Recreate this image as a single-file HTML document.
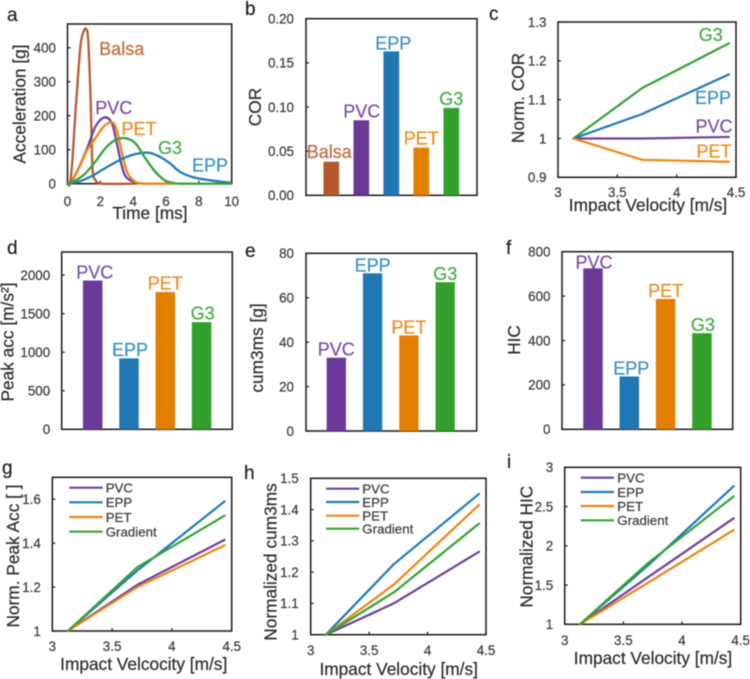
<!DOCTYPE html>
<html lang="en">
<head>
<meta charset="utf-8">
<title>Impact attenuation charts</title>
<style>
html,body{margin:0;padding:0;background:#fff;}
svg{display:block;font-family:"Liberation Sans",Arial,sans-serif;filter:blur(0.45px);}
</style>
</head>
<body>
<svg id="figure" xmlns="http://www.w3.org/2000/svg" width="750" height="679" viewBox="0 0 750 679">
  <rect width="750" height="679" fill="#ffffff"/>
  <g font-size="19" fill="#1f1f1f" stroke="#1f1f1f" stroke-width="0.2">
    <text x="7" y="21">a</text>
    <text x="245" y="15">b</text>
    <text x="489" y="20">c</text>
    <text x="7" y="254">d</text>
    <text x="245" y="257">e</text>
    <text x="506" y="254">f</text>
    <text x="2" y="474">g</text>
    <text x="244" y="479">h</text>
    <text x="507" y="468">i</text>
  </g>
</svg>
<script>
// ---------- colours ----------
const lineColors = {PVC:'#6f3fa0',EPP:'#1f7ab8',PET:'#ee8412',G3:'#35a335',Gradient:'#35a335',Balsa:'#b55c30'};
const barColors = {PVC:'#6b3a98',EPP:'#1f77b4',PET:'#e37f00',G3:'#33a02c',Balsa:'#b5592c'};
const labelColors = {PVC:'#7a4dab',EPP:'#3a8fc7',PET:'#ee8a1a',G3:'#3fae3f',Balsa:'#c06a3e'};

// ---------- panel a: acceleration pulses ----------
const aXTicks = ['0','2','4','6','8','10'];
const aYTicks = ['0','100','200','300','400'];
const aEppTime = [0,0.68,1.5,2.3,3.32,4.13,4.94,5.63,6.24,6.85,7.66,8.68,9.9];
const aEppAcc = [0,6,23,46,73,87,91,79,60,35,19,10,3];
const aG3Time = [0,0.48,1.08,1.7,2.3,2.9,3.52,4.13,4.74,5.35,5.96,6.5,7,10];
const aG3Acc = [0,9,30,65,104,128,134,119,75,35,9,2,0,0];
const aPvcTime = [0,0.2,0.68,1.2,1.7,2.24,2.7,3,3.32,3.62,4.3,5];
const aPvcAcc = [0,3,46,104,168,195,178,120,50,17,2,0];
const aPetTime = [0,0.27,0.78,1.2,1.7,2.2,2.7,3,3.32,3.62,4.03,4.5,6.5];
const aPetAcc = [0,6,55,99,134,168,181,158,90,35,9,1,0];
const aBalsaTime = [0,0.15,0.3,0.44,0.58,0.8,1,1.13,1.25,1.39,1.46,1.53,1.7,2.1,4];
const aBalsaAcc = [0,0,70,178,275,410,450,455,430,275,150,40,11,0,0];

// ---------- panel b ----------
const bCategories = ['Balsa','PVC','EPP','PET','G3'];
const bValues = [0.038,0.085,0.163,0.054,0.099];
const bYTicks = ['0.00','0.05','0.10','0.15','0.20'];

// ---------- panel c ----------
const velocities = [3.13,3.71,4.44];
const velocityTicks = ['3','3.5','4','4.5'];
const cYTicks = ['0.9','1','1.1','1.2','1.3'];
const cG3 = [1,1.13,1.245];
const cEpp = [1,1.063,1.165];
const cPvc = [1,1.0,1.004];
const cPet = [1,0.945,0.94];

// ---------- panels d, e, f ----------
const materialCategories = ['PVC','EPP','PET','G3'];
const dValues = [1930,920,1780,1390];
const dYTicks = ['0','500','1000','1500','2000'];
const eValues = [33,71,43,67];
const eYTicks = ['0','20','40','60','80'];
const fValues = [725,238,587,433];
const fYTicks = ['0','200','400','600','800'];

// ---------- panel g ----------
const gYTicks = ['1','1.2','1.4','1.6'];
const gPvc = [1,1.21,1.415];
const gEpp = [1,1.275,1.59];
const gPet = [1,1.2,1.39];
const gGradient = [1,1.29,1.525];

// ---------- panel h ----------
const hYTicks = ['1','1.1','1.2','1.3','1.4','1.5'];
const hPvc = [1,1.1,1.265];
const hEpp = [1,1.225,1.45];
const hPet = [1,1.16,1.415];
const hGradient = [1,1.135,1.355];

// ---------- panel i ----------
const iYTicks = ['1','1.5','2','2.5','3'];
const iPvc = [1,1.6,2.35];
const iEpp = [1,1.75,2.76];
const iPet = [1,1.53,2.2];
const iGradient = [1,1.78,2.63];

const legendNames = ['PVC','EPP','PET','Gradient'];

const root = document.getElementById('figure');
const NS = 'http://www.w3.org/2000/svg';

function mk(tag, attrs, parent, txt) {
  const n = document.createElementNS(NS, tag);
  for (const k in attrs) n.setAttribute(k, attrs[k]);
  if (tag === 'text') {
    n.setAttribute('stroke', attrs.fill);
    n.setAttribute('stroke-width', '0.2');
  }
  if (txt !== undefined) n.textContent = txt;
  parent.appendChild(n);
  return n;
}

function scale(d0, d1, r0, r1) {
  return v => r0 + (v - d0) * (r1 - r0) / (d1 - d0);
}

function smoothPath(pts) {
  let d = 'M' + pts[0][0].toFixed(2) + ' ' + pts[0][1].toFixed(2);
  for (let i = 0; i < pts.length - 1; i++) {
    const p0 = pts[Math.max(0, i - 1)], p1 = pts[i], p2 = pts[i + 1], p3 = pts[Math.min(pts.length - 1, i + 2)];
    const c1x = p1[0] + (p2[0] - p0[0]) / 6, c1y = p1[1] + (p2[1] - p0[1]) / 6;
    const c2x = p2[0] - (p3[0] - p1[0]) / 6, c2y = p2[1] - (p3[1] - p1[1]) / 6;
    d += 'C' + c1x.toFixed(2) + ' ' + c1y.toFixed(2) + ' ' + c2x.toFixed(2) + ' ' + c2y.toFixed(2) + ' ' + p2[0].toFixed(2) + ' ' + p2[1].toFixed(2);
  }
  return d;
}

function frame(c) {
  const g = mk('g', {}, root);
  
  
  const box = mk('rect', {x:c.l, y:c.t, width:c.r - c.l, height:c.b - c.t, fill:'none', stroke:'#1a1a1a', 'stroke-width':1.5}, g);
  
  
  c.yScale = scale(c.yMin, c.yMax, c.b, c.t);
  c.yTicks.forEach(lab => {
    const y = c.yScale(+lab);
    const tick = mk('line', {x1:c.l, x2:c.l + 3, y1:y, y2:y, stroke:'#1a1a1a', 'stroke-width':1.2}, g);
    
    
    const tl = mk('text', {x:c.l - (c.yLabelGap || 11.5), y:y + 4.8, 'text-anchor':'end', 'font-size':13.4, fill:'#3a3a3a'}, g, lab);
    
    
  });
  if (c.xTicks) {
    c.xScale = scale(c.xMin, c.xMax, c.l, c.r);
    c.xTicks.forEach(lab => {
      const x = c.xScale(+lab);
      const tick = mk('line', {x1:x, x2:x, y1:c.b, y2:c.b - 3, stroke:'#1a1a1a', 'stroke-width':1.2}, g);
      
      
      const tl = mk('text', {x:x, y:c.xLabelY, 'text-anchor':'middle', 'font-size':13.4, fill:'#3a3a3a'}, g, lab);
      
      
    });
  }
  if (c.xTitle) {
    const xt = mk('text', {x:c.xTitle[1], y:c.xTitle[2], 'text-anchor':'middle', 'font-size':17.3, fill:'#2b2b2b'}, g, c.xTitle[0]);
    
    
  }
  const yt = mk('text', {transform:'translate(' + c.yTitle[1] + ' ' + c.yTitle[2] + ') rotate(-90)', 'text-anchor':'middle', 'font-size':17.3, fill:'#2b2b2b'}, g, c.yTitle[0]);
  
  
  return g;
}

function barChart(c) {
  const g = frame(c);
  c.categories.forEach((cat, i) => {
    const y = c.yScale(c.values[i]);
    const cx = c.first + c.step * i;
    const bar = mk('rect', {x:cx - c.bw / 2, y:y, width:c.bw, height:c.b - y, fill:barColors[cat]}, g);
    
    
    const lab = mk('text', {x:cx + (c.labelDx ? c.labelDx[i] : 0), y:y - (c.labelDy ? c.labelDy[i] : 3), 'text-anchor':'middle', 'font-size':18, fill:labelColors[cat]}, g, cat);
    
    
  });
}

function lineChart(c) {
  const g = frame(c);
  c.series.forEach(s => {
    const pts = s.y.map((v, i) => [c.xScale(s.x[i]), c.yScale(v)]);
    const d = c.smooth ? smoothPath(pts) : 'M' + pts.map(p => p[0].toFixed(2) + ' ' + p[1].toFixed(2)).join('L');
    const line = mk('path', {d:d, fill:'none', stroke:lineColors[s.name], 'stroke-width':c.sw || 2, 'stroke-linejoin':'round', 'stroke-linecap':'round'}, g);
    
    
    if (s.label) {
      const t = mk('text', {x:s.label[0], y:s.label[1], 'text-anchor':'middle', 'font-size':18, fill:labelColors[s.name]}, g, s.name);
      
      
    }
  });
  if (c.legend) {
    legendNames.forEach((name, i) => {
      const y = c.legend.y[i];
      const key = mk('line', {x1:c.legend.x1, x2:c.legend.x2, y1:y, y2:y, stroke:lineColors[name], 'stroke-width':2.2}, g);
      
      
      const t = mk('text', {x:c.legend.tx, y:y + 4.8, 'font-size':13.3, fill:'#3a3a3a'}, g, name);
      
      
    });
  }
}

lineChart({id:'a', l:67.5, r:231.7, t:24, b:183.7, xMin:0, xMax:10, yMin:0, yMax:470,
  xTicks:aXTicks, yTicks:aYTicks, xLabelY:206, smooth:true, sw:2.3,
  xTitle:['Time [ms]',150,219], yTitle:['Acceleration [g]',25.5,104],
  series:[
    {name:'Balsa', x:aBalsaTime, y:aBalsaAcc, label:[121.7,55]},
    {name:'PVC', x:aPvcTime, y:aPvcAcc, label:[113.7,114]},
    {name:'PET', x:aPetTime, y:aPetAcc, label:[139,135]},
    {name:'EPP', x:aEppTime, y:aEppAcc, label:[210,171.7]},
    {name:'G3', x:aG3Time, y:aG3Acc, label:[170,154]}
  ]});

barChart({id:'b', l:306, r:477, t:18.7, b:195.3, yMin:0, yMax:0.2, yTicks:bYTicks, yLabelGap:12,
  yTitle:['COR',261,107], categories:bCategories, values:bValues,
  first:331.3, step:30, bw:15.7, labelDy:[3.5,2.5,2,3,3], labelDx:[-2,0.5,2,0,0]});

lineChart({id:'c', l:558, r:736, t:22, b:177.3, xMin:3, xMax:4.5, yMin:0.9, yMax:1.3,
  xTicks:velocityTicks, yTicks:cYTicks, xLabelY:197, sw:2.2,
  xTitle:['Impact Velocity [m/s]',648,211], yTitle:['Norm. COR',524,98],
  series:[
    {name:'G3', x:velocities, y:cG3, label:[710.7,41]},
    {name:'EPP', x:velocities, y:cEpp, label:[713,104]},
    {name:'PVC', x:velocities, y:cPvc, label:[714,132.7]},
    {name:'PET', x:velocities, y:cPet, label:[714,157.7]}
  ]});

barChart({id:'d', l:61.7, r:232.3, t:252, b:429.3, yMin:0, yMax:2300, yTicks:dYTicks,
  yTitle:['Peak acc  [m/s²]',13.3,342], categories:materialCategories, values:dValues,
  first:92.7, step:36.3, bw:19.5, labelDy:[2,2.5,2.5,2.5], labelDx:[2,1,0,1]});

barChart({id:'e', l:306, r:476.7, t:253.3, b:431, yMin:0, yMax:80, yTicks:eYTicks, yLabelGap:12,
  yTitle:['cum3ms [g]',263,348], categories:materialCategories, values:eValues,
  first:336.3, step:36.3, bw:19.3, labelDy:[2,2,2,2], labelDx:[0,0,0,0]});

barChart({id:'f', l:562, r:732.7, t:251.7, b:429.3, yMin:0, yMax:800, yTicks:fYTicks,
  yTitle:['HIC',520,340], categories:materialCategories, values:fValues,
  first:593, step:36.3, bw:19.5, labelDy:[0,2,2,2], labelDx:[1,2,0,1]});

lineChart({id:'g', l:52.3, r:231.7, t:477.3, b:631, xMin:3, xMax:4.5, yMin:1, yMax:1.7,
  xTicks:velocityTicks, yTicks:gYTicks, xLabelY:651, sw:2.2,
  xTitle:['Impact Velcocity [m/s]',143.7,670], yTitle:['Norm. Peak Acc [ ]',19,556],
  legend:{x1:69.3, x2:102.7, tx:105.7, y:[487.7,502.3,517,531.7]},
  series:[
    {name:'PVC', x:velocities, y:gPvc},
    {name:'EPP', x:velocities, y:gEpp},
    {name:'PET', x:velocities, y:gPet},
    {name:'Gradient', x:velocities, y:gGradient}
  ]});

lineChart({id:'h', l:310.7, r:486, t:478.3, b:634.7, xMin:3, xMax:4.5, yMin:1, yMax:1.5,
  xTicks:velocityTicks, yTicks:hYTicks, xLabelY:655, yLabelGap:12, sw:2.2,
  xTitle:['Impact Velocity [m/s]',398.7,675], yTitle:['Normalized cum3ms',276.7,562],
  legend:{x1:326, x2:359.3, tx:362.3, y:[488.7,502,515.7,528.7]},
  series:[
    {name:'PVC', x:velocities, y:hPvc},
    {name:'EPP', x:velocities, y:hEpp},
    {name:'PET', x:velocities, y:hPet},
    {name:'Gradient', x:velocities, y:hGradient}
  ]});

lineChart({id:'i', l:564.7, r:740.7, t:467.3, b:624.3, xMin:3, xMax:4.5, yMin:1, yMax:3,
  xTicks:velocityTicks, yTicks:iYTicks, xLabelY:645, sw:2.2,
  xTitle:['Impact Velocity [m/s]',653,664], yTitle:['Normalized HIC',532.7,546.7],
  legend:{x1:580.7, x2:614, tx:617.3, y:[477.7,492,506,520.3]},
  series:[
    {name:'PVC', x:velocities, y:iPvc},
    {name:'EPP', x:velocities, y:iEpp},
    {name:'PET', x:velocities, y:iPet},
    {name:'Gradient', x:velocities, y:iGradient}
  ]});
</script>
</body>
</html>
